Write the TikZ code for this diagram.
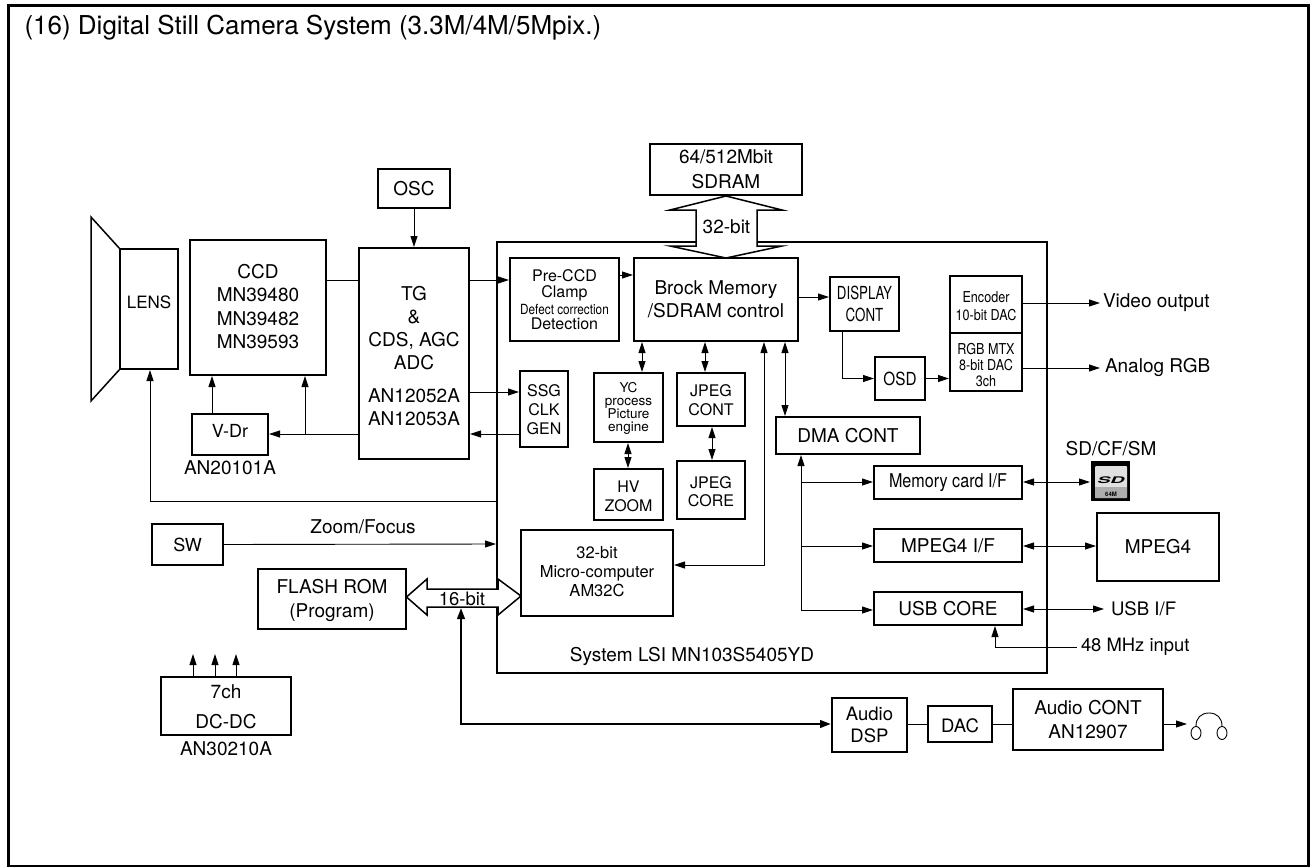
\documentclass[tikz,border=0pt]{standalone}
\usepackage{fontspec}
\usepackage{graphicx}
\setmainfont{TeX Gyre Heros}
\usetikzlibrary{arrows.meta,calc}
\newcommand{\fs}[2]{\fontsize{#1}{#2}\selectfont}
\newcommand{\cond}[2]{\scalebox{#1}[1]{#2}}
\newcommand{\dn}[1]{\rule{0pt}{\dimexpr.73em+2\dimexpr#1\relax\relax}}
\newcommand{\up}[1]{\rule[\dimexpr-2\dimexpr#1\relax\relax]{0pt}{\dimexpr2\dimexpr#1\relax\relax}}
\newcommand{\mybox}[7][]{%
  \pgfmathsetmacro{\mycx}{(#3+#5)/2}%
  \pgfmathsetmacro{\mycy}{(#4+#6)/2}%
  \pgfmathsetmacro{\myw}{#5-#3}%
  \pgfmathsetmacro{\myh}{#6-#4}%
  \node[blk,minimum width=\myw pt,minimum height=\myh pt,#1] (#2) at (\mycx,\mycy) {#7};}
\tikzset{
  blk/.style={draw=black,line width=1.4pt,inner sep=0pt,outer sep=0pt,fill=white,align=center,font=\fs{19}{23.5}},
  lbl/.style={inner sep=0pt,outer sep=0pt,font=\fs{19}{23},align=center},
  conn/.style={draw=black,line width=.9pt},
  arr/.style={conn,-{Triangle[length=11pt,width=7pt]},shorten >=1pt},
  dbl/.style={conn,{Triangle[length=11pt,width=7pt]}-{Triangle[length=11pt,width=7pt]},shorten >=1pt,shorten <=1pt},
  heavy/.style={draw=black,line width=2.4pt},
  outl/.style={draw=black,line width=1.5pt,fill=white,line join=miter},
}
\begin{document}
\begin{tikzpicture}[x=1pt,y=-1pt]
\useasboundingbox (0,0) rectangle (1310,867);
\fill[white] (0,0) rectangle (1310,867);
\node[draw=black,line width=3pt,inner sep=0pt,outer sep=0pt,minimum width=1300.5pt,minimum height=861pt] (frame) at (658.25,436) {};
\node[lbl,anchor=base west,font=\fs{26}{30}] (title) at (24.5,34.5) {(16) Digital Still Camera System (3.3M/4M/5Mpix.)};

% System LSI outline, opened for the two buses
\coordinate (lsia) at (757,242);
\coordinate (lsib) at (1047,242);
\coordinate (lsic) at (1047,673);
\coordinate (lsid) at (497,673);
\coordinate (lsie) at (497,607);
\coordinate (lsif) at (497,589);
\coordinate (lsig) at (497,242);
\coordinate (lsih) at (696,242);
\draw[line width=1.5pt] (lsia) -- (lsib) -- (lsic) -- (lsid) -- (lsie);
\draw[line width=1.5pt] (lsif) -- (lsig) -- (lsih);

% Lens
\coordinate (tra) at (120,249);
\coordinate (trb) at (91,217);
\coordinate (trc) at (91,401);
\coordinate (trd) at (120,369);
\draw[line width=1.5pt,line join=miter] (tra) -- (trb) -- (trc) -- (trd);
\mybox[font=\fs{17}{20}]{lens}{120}{249}{178}{369}{LENS\up{7pt}}
\mybox{ccd}{190}{240}{326}{375}{CCD\\MN39480\\MN39482\\MN39593\up{1pt}}
\mybox{osc}{378}{169}{450}{208}{OSC}
\mybox[font=\fs{19}{23}]{tg}{359}{248}{469}{459}{\dn{2.5pt}TG\\\&\\CDS, AGC\\ADC\\[10pt]AN12052A\\AN12053A}
\mybox[font=\fs{18}{20}]{vdr}{192}{414}{268}{455}{V-Dr\up{3.5pt}}
\node[lbl] (vdrt) at (230,468) {AN20101A};

\mybox[font=\fs{19}{25}]{sdram}{650}{144}{802}{195}{64/512Mbit\\SDRAM}
\mybox[font=\fs{16}{16}]{pre}{510}{258}{619}{341}{Pre-CCD\\[.5pt]Clamp\\[.5pt]\cond{.84}{\fs{14}{16}Defect correction}\\[-.5pt]Detection}
\mybox{brock}{634}{258}{798}{341}{Brock Memory\\/SDRAM control}
\mybox[font=\fs{18}{22}]{disp}{830}{277}{899}{331}{\cond{.74}{DISPLAY}\\\cond{.74}{CONT}}
\mybox[font=\fs{18}{20}]{osd}{875}{357}{925}{400}{\cond{.85}{OSD}}
\mybox[font=\fs{15}{18}]{enc}{950}{276}{1022}{333}{\dn{1.5pt}\cond{.84}{Encoder}\\\cond{.84}{10-bit DAC}}
\mybox[font=\fs{15}{16}]{rgb}{950}{333}{1022}{391}{\dn{3pt}\cond{.84}{RGB MTX}\\\cond{.84}{8-bit DAC}\\\cond{.84}{3ch}}
\mybox[font=\fs{16}{19}]{ssg}{520}{371}{568}{447}{\dn{1pt}SSG\\CLK\\GEN}
\mybox[font=\fs{13.5}{13.3}]{yc}{594}{373}{663}{442}{\dn{1pt}YC\\process\\Picture\\engine}
\mybox[font=\fs{16}{19}]{jcont}{677}{373}{745}{426}{\dn{1pt}JPEG\\CONT}
\mybox[font=\fs{16}{19}]{hv}{594}{469}{663}{520}{\dn{2pt}HV\\ZOOM}
\mybox[font=\fs{16}{18}]{jcore}{677}{461}{745}{519}{\dn{2pt}JPEG\\CORE}
\mybox{dma}{776}{417}{920}{454}{DMA CONT}
\mybox[font=\fs{16.5}{18.7}]{micro}{521}{530}{673}{616}{32-bit\\Micro-computer\\AM32C\up{1.5pt}}
\mybox{memif}{874}{466}{1022}{499}{\cond{.85}{Memory card I/F}}
\mybox{mpif}{874}{529}{1022}{562}{MPEG4 I/F}
\mybox{usb}{874}{592}{1022}{625}{USB CORE}
\mybox{mpeg}{1097}{513}{1219}{581}{MPEG4}
\node[lbl] (lsit) at (692,656.5) {System LSI MN103S5405YD};

\mybox[font=\fs{18}{20}]{sw}{152}{524}{223}{565}{SW}
\mybox[font=\fs{19}{24}]{flash}{258}{569}{406}{629}{\dn{1.5pt}FLASH ROM\\(Program)}
\mybox[font=\fs{19}{30}]{dcdc}{161}{677}{291}{735}{\dn{1pt}7ch\\DC-DC}
\node[lbl] (dct) at (226,749) {AN30210A};

\mybox[font=\fs{18.5}{22}]{adsp}{832}{698}{907}{752}{Audio\\DSP}
\mybox[font=\fs{18.5}{20}]{dac}{928}{706}{992}{742}{\dn{2pt}DAC}
\mybox[font=\fs{19}{23.5}]{acont}{1013}{689}{1163}{750}{Audio CONT\\AN12907}

% 32-bit bus
\draw[outl] (726,196) coordinate (b32t) -- (782,210) -- (757,210) -- (757,246) -- (782,246) -- (726,258) coordinate (b32b) -- (670,246) -- (696,246) -- (696,210) -- (670,210) -- cycle;
\node[lbl] (b32) at (726.5,227) {32-bit};

% 16-bit bus
\draw[outl] (406.5,597) coordinate (b16l) -- (427,579) -- (427,589) -- (498,589) -- (498,579) -- (521,596) coordinate (b16r) -- (498,615) -- (498,607) -- (427,607) -- (427,615) -- cycle;
\node[lbl,font=\fs{18.5}{20}] (b16) at (462,598.5) {16-bit};

% connectors
\draw[arr] (osc.south) -- (osc.south |- tg.north);
\draw[conn] (ccd.east |- 0,280) -- (tg.west |- 0,280);
\draw[arr] (tg.east |- 0,280) -- (pre.west |- 0,280);
\draw[arr] (pre.east |- 0,275) -- (brock.west |- 0,275);
\draw[arr] (brock.east |- 0,297) -- (disp.west |- 0,297);
\draw[arr] (842,331) coordinate (dispo) -- (dispo |- osd.west) -- (osd.west);
\draw[arr] (osd.east) -- (rgb.west |- osd.east);
\draw[arr] (enc.east |- 0,303) -- (1101,303) coordinate (vout);
\node[lbl,anchor=west] (voutt) at (1103,303) {Video output};
\draw[arr] (rgb.east |- 0,368) -- (1101,368) coordinate (aout);
\node[lbl,anchor=west] (aoutt) at (1105,367) {Analog RGB};
\draw[arr] (tg.east |- 0,392) -- (ssg.west |- 0,392);
\draw[arr] (ssg.west |- 0,434) -- (tg.east |- 0,434);
\draw[arr] (tg.west |- 0,434) -- (vdr.east |- 0,434);
\draw[arr] (305,434) coordinate (vbr) -- (vbr |- ccd.south);
\draw[arr] (vdr.north -| 212,0) -- (ccd.south -| 212,0);
\draw[arr] (497,501) coordinate (lensin) -- (150,501) -- (lens.south -| 150,0);
\draw[arr] (sw.east) -- (497,544) coordinate (swin);
\node[lbl] (zf) at (363,527) {Zoom/Focus};
\draw[dbl] (brock.south -| 642,0) -- (yc.north -| 642,0);
\draw[dbl] (brock.south -| 705,0) -- (jcont.north -| 705,0);
\draw[dbl] (jcont.south -| 712,0) -- (jcore.north -| 712,0);
\draw[dbl] (yc.south -| 628,0) -- (hv.north -| 628,0);
\draw[dbl] (brock.south -| 764,0) -- (764,565) -- (micro.east |- 0,565);
\draw[dbl] (brock.south -| 785,0) -- (dma.north -| 785,0);
\draw[arr] (801,610) coordinate (busb) -- (dma.south -| 801,0);
\draw[arr] (busb) -- (usb.west |- busb);
\draw[arr] (801,482) coordinate (busa) -- (memif.west |- busa);
\draw[arr] (801,546) coordinate (busc) -- (mpif.west |- busc);
\draw[dbl] (memif.east |- 0,482) -- (1091,482) coordinate (sdin);
\draw[dbl] (mpif.east |- 0,546) -- (mpeg.west |- 0,546);
\draw[dbl] (usb.east |- 0,609) -- (1105,609) coordinate (usbout);
\node[lbl,anchor=west,font=\fs{18.6}{20}] (usbt) at (1111,609) {USB I/F};
\node[lbl,anchor=west,font=\fs{18.4}{20}] (mhz) at (1081,647) {48 MHz input};
\draw[arr] ([xshift=-4pt]mhz.west) -- (995,647) -- (usb.south -| 995,0);
\draw[arr] (dcdc.north -| 193,0) -- (193,653) coordinate (d1);
\draw[arr] (dcdc.north -| 215,0) -- (215,653) coordinate (d2);
\draw[arr] (dcdc.north -| 236,0) -- (236,653) coordinate (d3);

% thick audio bus
\draw[heavy,{Triangle[length=11pt,width=7.5pt]}-{Triangle[length=11pt,width=7.5pt]},shorten >=1pt] (461,608) -- (461,724) -- (adsp.west |- 0,724);
\draw[conn] (adsp.east |- 0,724) -- (dac.west |- 0,724);
\draw[conn] (dac.east |- 0,724) -- (acont.west |- 0,724);
\draw[arr] (acont.east |- 0,724) -- (1188,724) coordinate (hpin);

% headphones
\draw[line width=.9pt] (1196,726) .. controls (1196,718) and (1201,713) .. (1209,713) .. controls (1217,713) and (1222,718) .. (1222,726);
\draw[line width=.9pt,fill=white] (1196,733) ellipse [x radius=5,y radius=6.5];
\draw[line width=.9pt,fill=white] (1222,733) ellipse [x radius=5,y radius=6.5];

% memory card
\node[lbl] (sdt) at (1111,449) {SD/CF/SM};
\fill[black] (1091,461) rectangle (1130,501);
\fill[black!12,rounded corners=1pt] (1095,466) rectangle (1127,498);
\fill[black!32] (1095,487) rectangle (1127,498);
\node[inner sep=0pt,font=\bfseries\itshape\fs{13}{13}] (sdl) at (1111,480) {\scalebox{1.5}[.7]{SD}};
\node[inner sep=0pt,font=\bfseries\fs{6}{6}] (sdm) at (1111,494) {64M};
\end{tikzpicture}
\end{document}
